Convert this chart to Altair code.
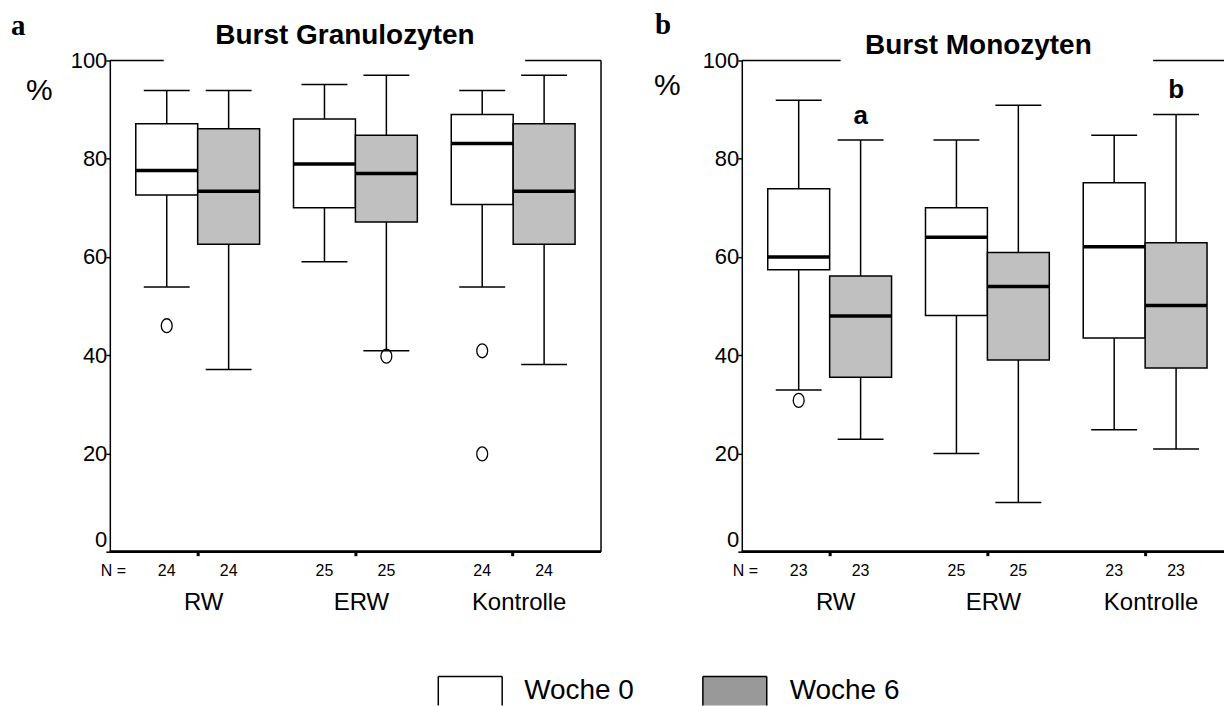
import altair as alt
import pandas as pd

GROUPS = ["RW", "ERW", "Kontrolle"]
WEEKS = ["Woche 0", "Woche 6"]
BOX_GROUP = ["RW", "RW", "ERW", "ERW", "Kontrolle", "Kontrolle"]
BOX_WEEK = ["Woche 0", "Woche 6", "Woche 0", "Woche 6", "Woche 0", "Woche 6"]

# Panel a: Burst Granulozyten
gran_lower = [53.9, 37.1, 59.0, 40.9, 53.9, 38.1]
gran_q1 = [72.6, 62.6, 70.0, 67.1, 70.7, 62.6]
gran_median = [77.6, 73.4, 78.9, 77.0, 83.1, 73.4]
gran_q3 = [87.1, 86.1, 88.1, 84.8, 89.0, 87.1]
gran_upper = [93.9, 93.9, 95.1, 97.0, 93.9, 97.0]
gran_n = [24, 24, 25, 25, 24, 24]
gran_out_group = ["RW", "ERW", "Kontrolle", "Kontrolle"]
gran_out_week = ["Woche 0", "Woche 6", "Woche 0", "Woche 0"]
gran_out_value = [46.0, 39.8, 40.9, 19.9]

# Panel b: Burst Monozyten
mono_lower = [32.9, 22.9, 20.0, 10.0, 24.8, 20.9]
mono_q1 = [57.4, 35.5, 48.1, 39.0, 43.5, 37.4]
mono_median = [60.0, 48.0, 64.0, 54.0, 62.1, 50.1]
mono_q3 = [73.9, 56.1, 70.0, 60.9, 75.1, 62.9]
mono_upper = [91.9, 83.8, 83.8, 90.9, 84.8, 89.0]
mono_n = [23, 23, 25, 25, 23, 23]
mono_out_group = ["RW"]
mono_out_week = ["Woche 0"]
mono_out_value = [30.8]
mono_sig_group = ["RW", "Kontrolle"]
mono_sig_week = ["Woche 6", "Woche 6"]
mono_sig_text = ["a", "b"]

LEGEND_LABELS = ["Woche 0", "Woche 6"]
LEGEND_FILLS = ["white", "#999999"]
BOX_FILLS = ["white", "#c0c0c0"]

FONT = "Liberation Sans"
SERIF = "Liberation Serif"
H = 492
BOTTOM = 646  # bottom of the drawing, relative to the plot top
ELLIPSE = "M -0.78 0 A 0.78 1 0 1 0 0.78 0 A 0.78 1 0 1 0 -0.78 0 Z"
ONE = pd.DataFrame({"k": [0]})


def hline(x0, x1, y, w=1.5):
    return alt.Chart(ONE).mark_rule(color="black", strokeWidth=w).encode(
        x=alt.value(x0), x2=alt.value(x1), y=alt.value(y))


def vline(x, y0, y1, w=1.5):
    return alt.Chart(ONE).mark_rule(color="black", strokeWidth=w).encode(
        x=alt.value(x), y=alt.value(y0), y2=alt.value(y1))


def label(txt, x, y, size, align="left", baseline="alphabetic", weight="normal", font=FONT):
    return alt.Chart(pd.DataFrame({"t": [txt]})).mark_text(
        font=font, fontSize=size, fontWeight=weight, align=align,
        baseline=baseline, color="black").encode(
        x=alt.value(x), y=alt.value(y), text="t:N")


def rect(x0, x1, y0, y1, fill):
    return alt.Chart(ONE).mark_rect(fill=fill).encode(
        x=alt.value(x0), x2=alt.value(x1), y=alt.value(y0), y2=alt.value(y1))


def panel(lower, q1, med, q3, upper, n, og, ow, ov, sg, sw, st,
          title, title_x, title_y, letter, letter_x, letter_y, pct_x, pct_y,
          width, pad_outer, align, top_left_end, top_right_start, right_border, extra):
    box = pd.DataFrame(dict(group=BOX_GROUP, week=BOX_WEEK, lower=lower, q1=q1,
                            median=med, q3=q3, upper=upper, n=n))
    out = pd.DataFrame(dict(group=og, week=ow, value=ov))
    sig = pd.DataFrame(dict(group=sg, week=sw, text=st)).merge(
        box[["group", "week", "upper"]], on=["group", "week"])

    xscale = alt.Scale(domain=GROUPS, paddingInner=0, paddingOuter=pad_outer, align=align)
    xaxis = alt.Axis(title=None, domain=False, grid=False, labelAngle=0, labelFont=FONT,
                     labelFontSize=24, labelColor="black", labelPadding=35, labelOffset=6,
                     tickSize=4, tickWidth=3, tickColor="black", zindex=2)
    X = alt.X("group:N", scale=xscale, axis=xaxis)
    XO = alt.XOffset("week:N", scale=alt.Scale(domain=WEEKS, paddingInner=0, paddingOuter=0.274))
    yscale = alt.Scale(domain=[0, 100], nice=False)
    yaxis = alt.Axis(title=None, values=[0, 20, 40, 60, 80, 100], grid=False,
                     domainColor="black", domainWidth=1.5, tickColor="black", tickSize=4,
                     tickWidth=1.5, labelFont=FONT, labelFontSize=22, labelColor="black",
                     labelPadding=-1, labelFlush=False, zindex=2,
                     labelBaseline={"expr": "datum.value == 0 ? 'bottom' : 'middle'"})

    def Y(f):
        return alt.Y(f, scale=yscale, axis=yaxis)

    base = alt.Chart(box)
    whisk = base.mark_rule(color="black", strokeWidth=1.5).encode(
        x=X, xOffset=XO, y=Y("lower:Q"), y2="upper:Q")
    cap_lo = base.mark_tick(size=46, thickness=1.5, color="black", opacity=1).encode(
        x=X, xOffset=XO, y=Y("lower:Q"))
    cap_hi = base.mark_tick(size=46, thickness=1.5, color="black", opacity=1).encode(
        x=X, xOffset=XO, y=Y("upper:Q"))
    boxes = base.mark_bar(stroke="black", strokeWidth=1.5, opacity=1).encode(
        x=X, xOffset=XO, y=Y("q1:Q"), y2="q3:Q",
        fill=alt.Fill("week:N", scale=alt.Scale(domain=WEEKS, range=BOX_FILLS), legend=None))
    meds = base.mark_tick(size=62, thickness=3.5, color="black", opacity=1).encode(
        x=X, xOffset=XO, y=Y("median:Q"))
    nlab = base.mark_text(font=FONT, fontSize=16, baseline="middle", color="black").encode(
        x=X, xOffset=XO, y=alt.value(H + 19), text="n:Q")
    outs = alt.Chart(out).mark_point(shape=ELLIPSE, size=196, filled=False, color="black",
                                     strokeWidth=1.3, opacity=1).encode(
        x=X, xOffset=XO, y=Y("value:Q"))
    layers = list(extra[0]) + [whisk, cap_lo, cap_hi, boxes, meds, outs, nlab]
    if len(sig):
        sigs = alt.Chart(sig).mark_text(font=FONT, fontSize=26, fontWeight="bold",
                                        baseline="alphabetic", dy=-16.5, color="black").encode(
            x=X, xOffset=XO, y=Y("upper:Q"), text="text:N")
        layers.append(sigs)
    layers += [
        hline(0, width, H, 2.7),
        hline(0, top_left_end, 0),
        hline(top_right_start, width, 0),
        label("N =", -9, H + 19, 16, baseline="middle"),
        label("%", pct_x, pct_y, 30),
        label(title, title_x, title_y, 28, align="center", weight="bold"),
        label(letter, letter_x, letter_y, 29, weight="bold", font=SERIF),
    ]
    if right_border:
        layers.append(vline(width, 0, H))
    layers += list(extra[1])
    return alt.layer(*layers).properties(width=width, height=H)


bg = [rect(-110, 1116, -60, BOTTOM, "white")]
legend = [
    rect(329, 393, 617, BOTTOM, LEGEND_FILLS[0]),
    vline(329, 617, BOTTOM), vline(393, 617, BOTTOM), hline(329, 393, 617),
    label(LEGEND_LABELS[0], 415, BOTTOM - 6, 28),
    rect(594, 658, 617, BOTTOM, LEGEND_FILLS[1]),
    vline(594, 617, BOTTOM), vline(658, 617, BOTTOM), hline(594, 658, 617),
    label(LEGEND_LABELS[1], 681, BOTTOM - 6, 28),
]

left = panel(gran_lower, gran_q1, gran_median, gran_q3, gran_upper, gran_n,
             gran_out_group, gran_out_week, gran_out_value, [], [], [],
             "Burst Granulozyten", 235.5, -17, "a", -99, -26, -84, 39.5,
             492, 0.057, 0.5, 54, 416, True, (bg, legend))
right = panel(mono_lower, mono_q1, mono_median, mono_q3, mono_upper, mono_n,
              mono_out_group, mono_out_week, mono_out_value,
              mono_sig_group, mono_sig_week, mono_sig_text,
              "Burst Monozyten", 237, -6, "b", -87, -27, -88, 34.5,
              483, 0.0285, 1, 99, 412, False, ([], []))

chart = alt.hconcat(left, right, spacing=141, bounds="flush", padding=0,
                    background="white").configure_view(stroke=None)

chart.save("out.html", embed_options={"renderer": "svg", "actions": False})
